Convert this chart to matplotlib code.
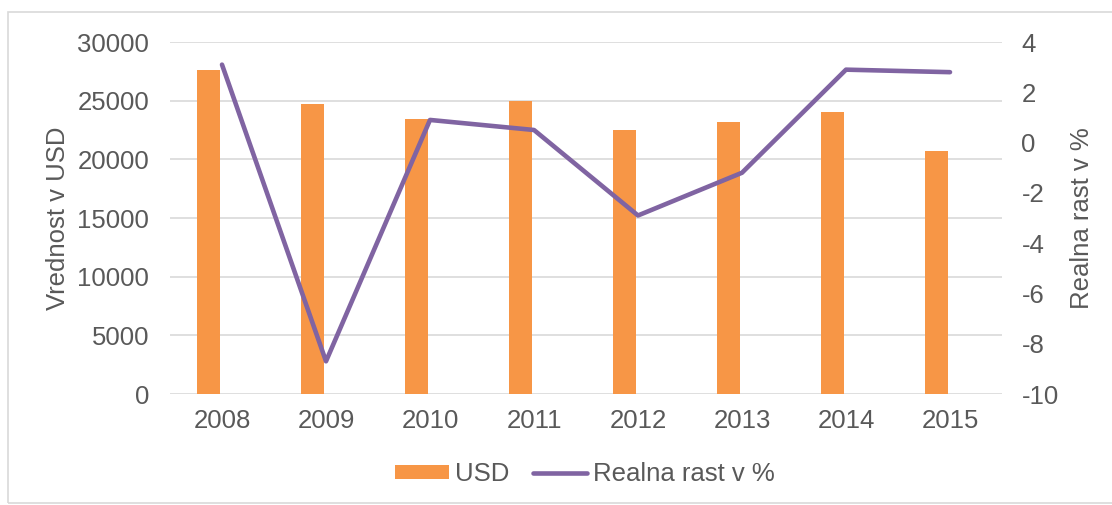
import matplotlib
matplotlib.use("Agg")
import numpy as np
import matplotlib.pyplot as plt
from matplotlib.patches import Rectangle
from matplotlib.lines import Line2D
from matplotlib.patches import Patch

# data
years = ["2008", "2009", "2010", "2011", "2012", "2013", "2014", "2015"]
usd = [27600, 24700, 23400, 25000, 22500, 23200, 24000, 20700]
growth = [3.1, -8.7, 0.9, 0.5, -2.9, -1.2, 2.9, 2.8]

ORANGE = "#F79646"
PURPLE = "#8064A2"
GRID = "#D9D9D9"
TEXT = "#595959"
FS = 18.5

plt.rcParams["font.family"] = ["Liberation Sans", "DejaVu Sans"]
plt.rcParams["axes.unicode_minus"] = False

fig = plt.figure(figsize=(11.12, 5.05), dpi=100)
ax = fig.add_axes([170 / 1112, 1 - 394 / 505, 832 / 1112, 352 / 505])
ax2 = ax.twinx()

x = np.arange(len(years))
ax.bar(x - 0.13, usd, width=0.225, color=ORANGE, zorder=2)
ax.set_xlim(-0.5, len(years) - 0.5)
ax.set_ylim(0, 30000)
ax.set_yticks(range(0, 30001, 5000))
ax.set_xticks(x)
ax.set_xticklabels(years)
ax.grid(axis="y", color=GRID, lw=1.2, zorder=0)
ax.set_axisbelow(True)

ax2.plot(x, growth, color=PURPLE, lw=3.3, solid_capstyle="round",
         solid_joinstyle="round", zorder=3)
ax2.set_ylim(-10, 4)
ax2.set_yticks(range(-10, 5, 2))

for a in (ax, ax2):
    for s in a.spines.values():
        s.set_visible(False)
    a.tick_params(length=0, labelsize=FS, labelcolor=TEXT)
ax.tick_params(axis="y", pad=15)
ax.tick_params(axis="x", pad=11)
ax2.tick_params(axis="y", pad=14)

ax.set_ylabel("Vrednost v USD", fontsize=FS, color=TEXT, labelpad=5)
ax2.set_ylabel("Realna rast v %", fontsize=FS, color=TEXT, labelpad=8)

handles = [Patch(facecolor=ORANGE, edgecolor="none"),
           Line2D([0], [0], color=PURPLE, lw=3.3, solid_capstyle="round")]
fig.legend(handles, ["USD", "Realna rast v %"], loc="center",
           bbox_to_anchor=(585 / 1112, 1 - 474 / 505), ncol=2, frameon=False,
           fontsize=FS, labelcolor=TEXT, handlelength=2.1, handleheight=0.5,
           handletextpad=0.25, columnspacing=0.9)

# outer chart border
fig.patches.append(Rectangle((7.5 / 1112, 1 - 503 / 505), 1.2, (503 - 12) / 505,
                             transform=fig.transFigure, fill=False,
                             edgecolor=GRID, lw=1.2))

fig.savefig("out.png", dpi=100)
